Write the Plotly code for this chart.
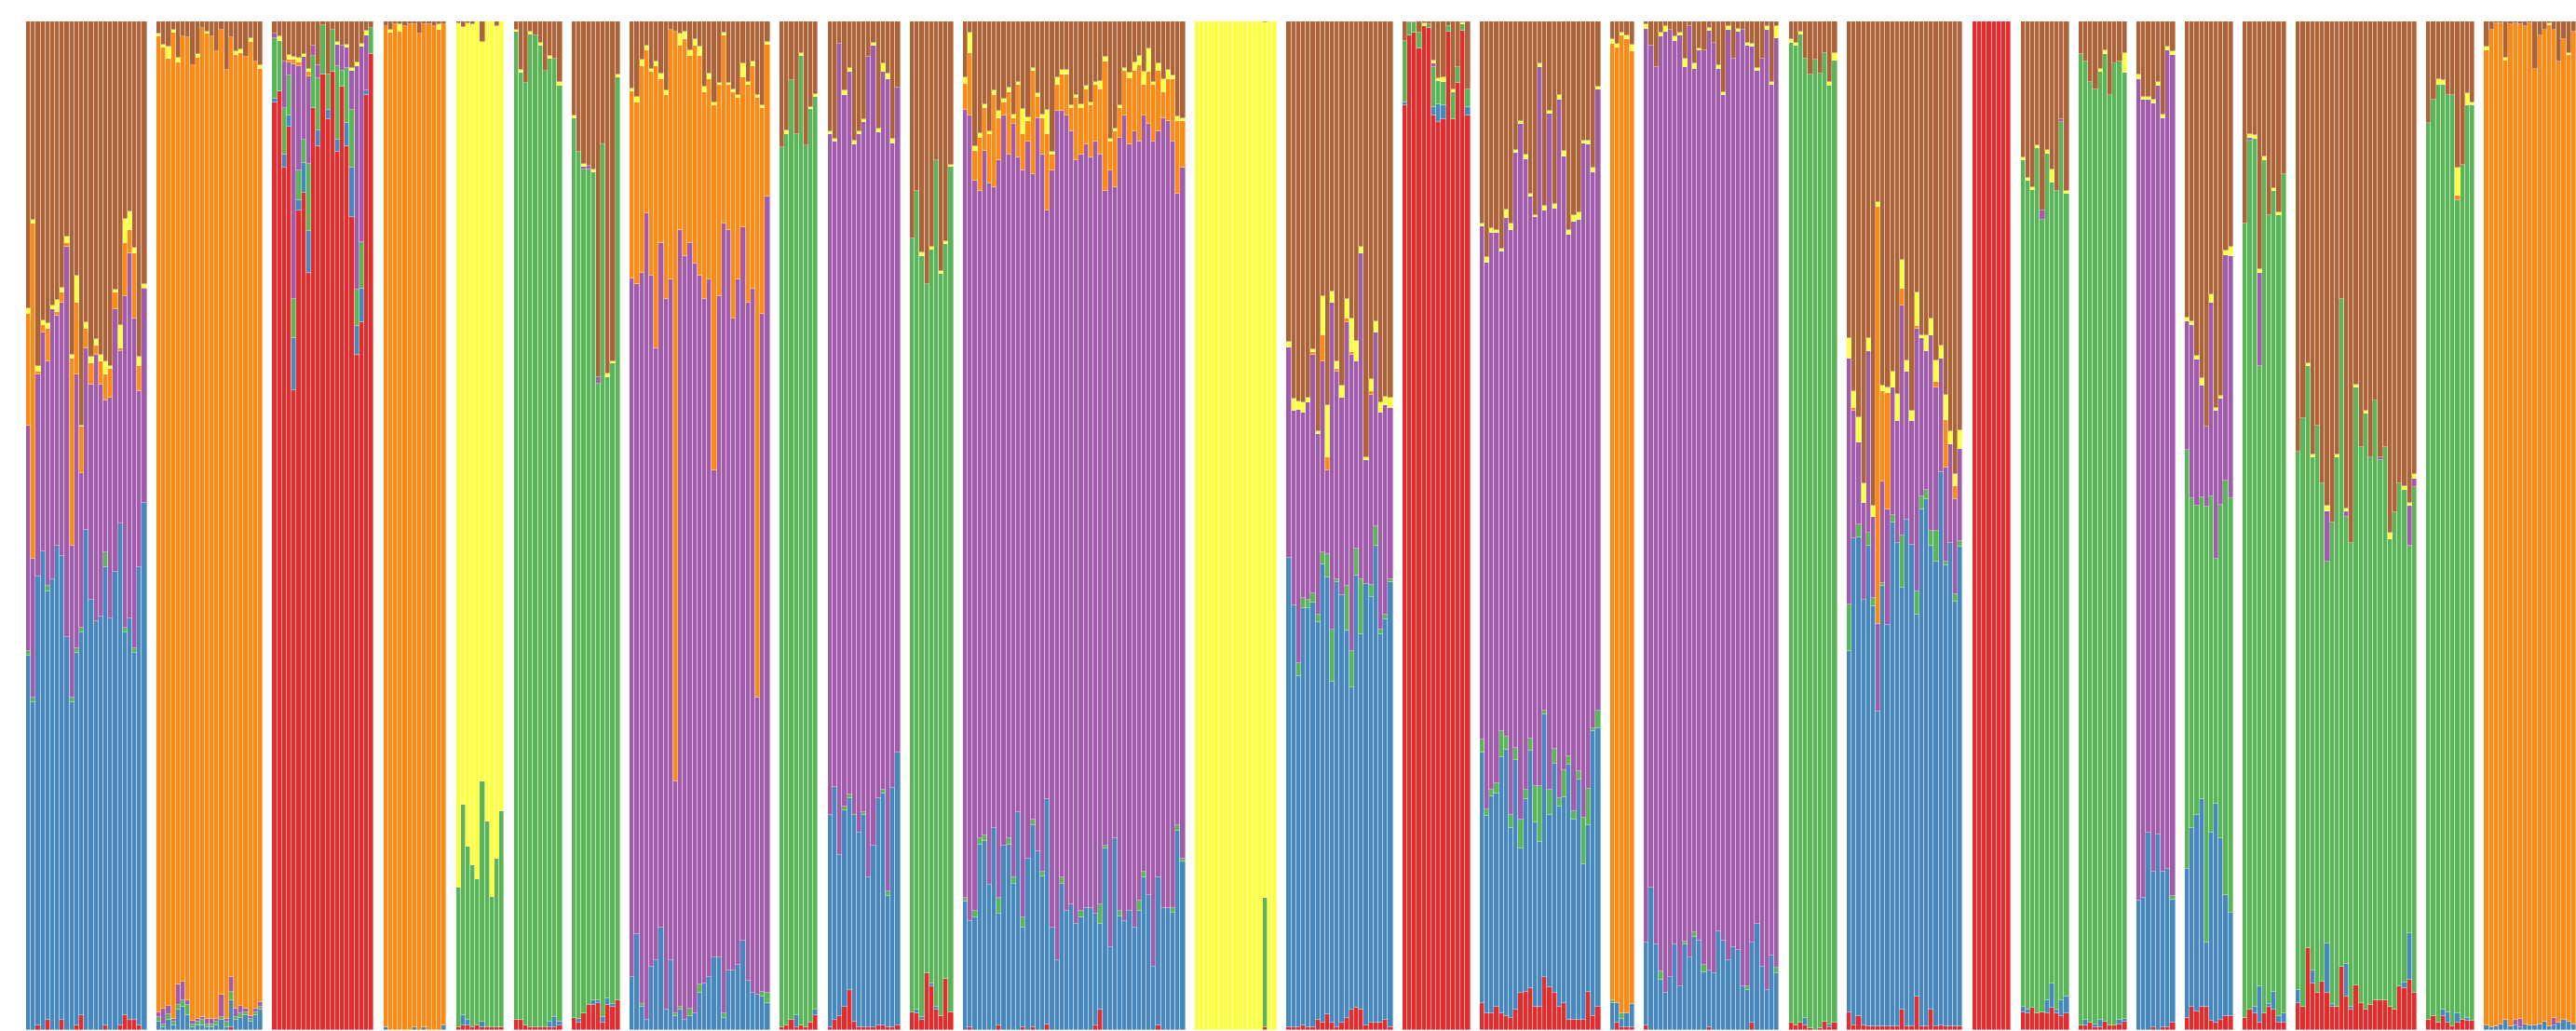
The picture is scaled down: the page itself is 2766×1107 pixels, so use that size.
import plotly.graph_objects as go

# Ancestry components (stacking order bottom -> top)
COMPONENTS = ["R", "B", "G", "P", "O", "Y", "N"]
COMPONENT_NAMES = {"R": "K1", "B": "K2", "G": "K3", "P": "K4", "O": "K5", "Y": "K6", "N": "K7"}
COLORS = {"R": "#e41a1c", "B": "#377eb8", "G": "#4daf4a", "P": "#984ea3",
          "O": "#ff7f00", "Y": "#ffff33", "N": "#a65628"}

# ---------------- population 1 ----------------
P01_R = [0,0,0.5,0,1,0,0,1,0,0,0.5,1.5,0,0,0,0,0.5,0,0,0.5,1.5,1,1,0.5,0]
P01_B = [37.1,32.5,44.5,47.5,42.5,44.7,48,46,39,32.5,36.9,37.9,49.6,42.7,40.5,41,45.4,40.8,45.4,49.7,37.9,39.8,36.4,45.4,52.3]
P01_G = [0.5,0.5,0,0,0.5,0,0,0,0,0.5,0.5,0.5,0,0,0,0,1.5,0,0,0,0.5,0,0.5,0,0]
P01_P = [22.3,13.7,20,21.7,22.3,26.8,22.8,25.1,38.7,15,27.1,15.3,18,21.3,26.4,23,15,21.9,26.1,17.1,32.9,36.2,32.6,17.4,21.2]
P01_O = [11.1,33.3,0.3,0.7,3.2,0,0.4,1,0.3,18.6,7.1,4.6,1.9,2.1,1,2.3,2.6,2.9,1.6,0.3,5.2,2.3,6.5,2.5,0.1]
P01_Y = [0.6,0.3,0.5,0.5,0.6,0.3,1.2,0.5,0.7,0.3,2.7,0.1,0.7,0.7,0.6,0.6,1.3,0.2,0.3,2.3,2.4,1.9,0.6,1,0.4]
P01_N = [28.4,19.7,34.2,29.6,29.9,28.2,27.6,26.4,21.3,33.1,25.2,40.1,29.8,33.2,31.5,33.1,33.7,34.2,26.6,30.1,19.6,18.8,22.4,33.2,26]

# ---------------- population 2 ----------------
P02_R = [0,0,0,0,0,0,0,0,0,0,0,0,0,0,0,0.3,0,0,0,0,0,0]
P02_B = [0.8,0.3,1,0.5,2,2.3,1.5,0.3,0.5,0.5,0.3,0.3,0.5,1,0.3,2.7,1,1.2,1.5,0.8,1.5,2]
P02_G = [0.5,0.3,0.6,0.3,0.5,0.7,1,0.3,0.3,0.5,0.3,0.3,0.3,0.3,0.5,0.8,0.3,0.5,0.3,0.3,0.3,0.3]
P02_P = [0.5,1.5,0.8,0.3,2,1.8,0.5,0.3,0.3,0.3,0.5,0.5,0.3,2.2,0.3,1.5,0.8,0.7,0.3,0.3,0.3,0.5]
P02_O = [96.7,95.3,93.9,97.8,91.4,93.7,95.4,94.8,95.3,98.1,97.7,97.4,95.9,95.7,94.1,93.1,94.6,94.5,94.4,96.6,93.9,92.5]
P02_Y = [0.3,0.3,1.2,0.3,0.5,0,0,0,0.4,0,0.2,0,0,0,0,0,0.3,0.3,0,0.3,0,0.4]
P02_N = [1.2,2.3,2.5,0.8,3.6,1.5,1.6,4.3,3.2,0.6,1,1.5,3,0.8,4.8,1.6,3,2.8,3.5,1.7,4,4.3]

# ---------------- population 3 ----------------
P03_R = [92,93,85.5,89.6,63.7,81.3,83,75.4,91.4,87.5,94.7,90.3,95,87.2,93.5,87.8,80.6,66.9,70.2,92.7,96.8]
P03_B = [0.3,0,1.3,1.1,5.2,1,3,4.2,0,1.6,0,0.9,0,1.2,0,2.3,4.9,2.9,3.3,0.5,0]
P03_G = [6,5,4.6,3.9,3.9,2.9,2.3,6.7,5.2,5.2,4.9,3.5,4.2,7.3,1.6,5.5,5.7,3.6,4.6,0,2.6]
P03_P = [0.5,0,4.6,1.3,23.3,10.4,8.2,8.7,1,1.3,0,0,0,2.1,2.5,2,3.9,22.2,19.4,5.4,0]
P03_O = [0,0,0,0.3,0.5,0.3,0,0.5,0,0,0,0,0,0,0,0,0,0,0,0,0]
P03_Y = [0,0.4,0,0.5,0.3,0.5,0.3,0.3,0,0,0,0,0,0.3,0,0.3,0.3,0.3,0.3,0.5,0]
P03_N = [1.2,1.5,4,3.3,3.5,3.6,3.2,4.7,2.4,4.3,0.4,5.3,0.8,2,2.4,2.3,4.6,4.1,2.2,0.9,0.6]

# ---------------- population 4 ----------------
P04_B = [0.3,0,0,0,0,0,0.3,0,0.3,0,0,0,0.5]
P04_O = [99.2,98.9,99.7,99,99.5,99.7,99.4,98.8,99.4,99.7,99.5,99.2,99.2]
P04_Y = [0,0.3,0,0.7,0,0,0,0,0,0,0,0.5,0]
P04_N = [0.5,0.8,0.3,0.3,0.5,0.3,0.3,1.2,0.3,0.3,0.5,0.3,0.3]

# ---------------- population 5 ----------------
P05_R = [0.3,0.5,0.5,0.3,0.5,0.3,0.3,0.3,0.3,0.3]
P05_B = [0,1,0.5,0,0,0.5,0,0,0,0]
P05_G = [13.8,20.5,17,16,14.4,23.7,20.4,12.9,16.7,21.4]
P05_Y = [85.7,76,80.8,83.4,84.6,72.7,79.3,86.8,82.5,78.3]
P05_N = [0.2,0.5,0.2,0.3,0,2,0,0,0.5,0]

# ---------------- population 6 ----------------
P06_R = [1,1,0.5,0.3,0.3,0.3,0.3,0.3,0.3,0.5]
P06_B = [0,0,0,0,0,0,0,0.5,1,0.3]
P06_G = [98,93.9,93.4,98.4,98.3,97.3,94.8,95.5,95,92.8]
P06_Y = [0.2,0.3,0,0.3,0,0.3,0,0.3,0,0.4]
P06_N = [0.8,4.8,6.1,1,1.4,2.1,4.9,3.4,3.7,6]

# ---------------- population 7 ----------------
P07_R = [1.2,0.7,1.7,2.5,2.5,2.7,0.7,2.5,2.3,3]
P07_B = [0,0.4,0,0,0.5,0.3,0.6,0.6,0.3,0]
P07_G = [89.2,86,83.6,82.8,82,61.1,86.5,61.6,63.5,91.5]
P07_P = [0,0,0.3,0.4,0,0.6,0,0,0,0]
P07_Y = [0.3,0,0.3,0,0.3,0,0,0.4,0.2,0.2]
P07_N = [9.3,12.9,14.1,14.3,14.7,35.3,12.2,34.9,33.7,5.3]

# ---------------- population 8 ----------------
P08_B = [5.3,9.5,2.3,1,6.3,6.9,10.2,2,6.9,1.4,2,1,1.4,1.7,3.7,4.6,5.3,7.2,7.2,1.2,5.9,5.9,6.5,8.9,4.9,3.7,3.5,3.3,2.7]
P08_G = [0,0,0.3,0,0,0,0,0,0,0.3,0.3,0,0.7,0,0.8,0,0,0,0,0.5,0,0,0,0,0,0,0,0.5,1]
P08_P = [69.1,64.5,72.5,80,68.5,60.7,67.8,70.5,67.5,23,77,75.7,75.9,74.3,70.3,67.9,69.1,48.3,65.6,78.3,73.4,64.6,67.9,70.7,67.2,69.8,29.5,67.2,78.9]
P08_O = [18.6,18,20.5,16.1,20.2,28,16.3,20.2,24.8,74.3,18.3,21.5,18.6,21.6,21.8,20.5,19.9,36.2,20.9,18.6,14.4,22.5,18,14.9,21.6,22.1,59.4,20.4,15.1]
P08_Y = [0.3,0.5,0.6,0.5,0.3,0.4,0.5,0.5,0,0,1.2,0.8,0.5,0.6,0.9,0.5,0.5,0.3,0.2,0.3,0.2,0.3,0.3,1.3,0.3,0.4,0.3,0.3,0.3]
P08_N = [6.6,7.5,3.8,2.4,4.7,4,5.2,6.8,0.8,1,1.2,1,2.9,1.8,2.5,6.5,5.2,8,6.1,1.1,6.1,6.7,7.3,4.2,6,4,7.3,8.3,2]

# ---------------- population 9 ----------------
P09_R = [0.3,0.5,1,0.3,0.5,0.3,0.7,1.5]
P09_B = [0,0,0,1.2,0,0,0,0.5]
P09_G = [87.2,88.3,93.2,87.3,96.1,87.4,90.6,90.5]
P09_Y = [0,0.4,0,0,0.3,0,0.2,0.3]
P09_N = [12.5,10.8,5.8,11.2,3.1,12.3,8.5,7.2]

# ---------------- population 10 ----------------
P10_R = [0.3,1,1.4,2.3,4,0.8,0.3,0.3,0.3,0.3,0.5,0.5,0.3,0.3,0.5]
P10_B = [21,23,16,19.5,19,20.5,19.3,21,14.8,18,22.5,23,13,23,27]
P10_G = [0,0,0,0.4,0.4,0,0,0.3,0,0,0,0.3,0.5,0,0]
P10_P = [67.5,63.8,80.4,70.5,71.6,66.5,69.2,68.4,81.4,79.3,66,71.2,80.5,62,65.9]
P10_Y = [0.3,0.3,0,0.5,0.4,0.4,0.3,0.3,0,0.3,0.4,0.8,0.5,0.4,0]
P10_N = [10.9,11.6,2.2,6.8,4.6,11.8,10.9,9.7,3.5,2.1,10.6,4.2,5.2,11.3,6.6]

# ---------------- population 11 ----------------
P11_R = [1.8,1.7,1,5.6,4.3,2,1.4,5.1,1.8]
P11_B = [0,0.3,0.3,0,0.3,0.3,0,0,0]
P11_G = [76.7,81.2,75.4,68.4,72.8,83.9,73.6,72.8,83.8]
P11_Y = [0,0,0.4,0,0.3,0,0.3,0.3,0.2]
P11_N = [21.5,16.8,22.9,26,22.3,13.8,24.7,21.8,14.2]

# ---------------- population 12 ----------------
P12_R = [0,0.3,0,0,0,0,0,0.5,0,0,0,0,0.3,0,0.3,0,0,0.6,0,0,0,0,0,0,0,0,0,0.5,2.0,0,0,0,0,0,0,0,0,0,0,0,0.5,0,0,0,0,0]
P12_B = [12.7,10.5,11.2,18.4,18.7,14.4,20,11,18.3,18.4,14.5,21.6,9.9,17,20,17.7,15.2,22.3,10.2,6.9,14.5,11.8,12.5,10.5,11.2,12.1,12.1,11,8.5,18,8.2,19,11.3,10.8,11.8,10.2,11.8,15.1,13.4,6.3,14.6,12.1,12.1,11.6,19.8,16.7]
P12_G = [0.4,0,0.6,0.6,0.6,0,0,1.6,0,0.6,0.6,0,1,0,0.6,0,0.5,0,0,0,0.6,0,0,0,0.6,0,0,0,2,0.3,0,0,0.5,0,0,0,1,0.6,0,0,0,0,0,0.5,0.5,0.3]
P12_P = [78.1,79.9,72.4,64.2,67.9,69.5,63.6,73.1,72.4,67.8,74.7,64.9,74,71.1,64,72.7,71.1,58.4,75,84.2,76,78.9,76.6,75.7,75,75.7,74.4,76.6,74.3,64.9,77,64.6,76.7,79.9,76,78.9,75.3,75,76.4,81.8,74,78.3,78,76,62.6,68.5]
P12_O = [2.6,6.2,3,5.3,4.2,4.9,9.1,4.2,1.3,6.2,0.6,7.2,3.6,2,10.2,2.1,3.6,7.5,1.6,2.6,3.6,4,2.3,6.2,4.6,5.5,5.2,5.6,6.5,12.8,2.9,5.5,2.9,4.4,6.6,6,7.6,3,5.2,5.6,6,2.6,4.2,6.2,7.2,4.6]
P12_Y = [0.7,2,0.4,0.4,0.4,0.3,0.5,0.7,0.3,0.4,0.4,0.3,2.5,0.4,0.3,0.4,0.4,2.4,0.3,0.8,0.5,0.5,0.3,0.3,0.4,0.3,0.3,0.3,0.8,0.5,0.3,0.3,0.3,0.3,0.5,0.8,0.9,1.3,2.3,0.3,0.7,1.3,0.9,0.3,0.5,0.3]
P12_N = [5.5,1.1,12.4,11.1,8.2,10.9,6.8,8.9,7.7,6.6,9.2,6,8.7,9.5,4.6,7.1,9.2,8.8,12.9,5.5,4.8,4.8,8.3,7.3,8.2,6.4,8,6,5.9,3.5,11.6,10.6,8.3,4.6,5.1,4.1,3.4,5,2.7,6,4.2,5.7,4.8,5.4,9.4,9.6]

# ---------------- population 13 ----------------
P13_R = [0,0,0,0,0,0,0,0,0,0,0,0,0,0,0.3,0,0]
P13_G = [0,0,0,0,0,0,0,0,0,0,0,0,0,0,12.8,0,0]
P13_Y = [100,100,100,100,100,100,100,100,100,100,100,100,100,100,86.8,100,100]
P13_N = [0,0,0,0,0,0,0,0,0,0,0,0,0,0,0.1,0,0]

# ---------------- population 14 ----------------
P14_R = [0.3,0.3,0.3,0.5,0.3,0.3,1.0,0.7,1.5,0.7,0.3,0.7,1.2,2.0,2.2,2.0,0.5,0.7,0.7,0.7,1.0,0.3]
P14_B = [46.5,41.8,34.3,41.3,41.5,42.1,39.4,45.5,42.3,33.8,44.1,42.4,38.4,32.0,42.9,37.2,43.7,42.2,47.3,38.5,39.7,44.1]
P14_G = [0,0,1.3,1.0,0.9,0.9,0.8,1.2,2.3,5.2,0.3,0,4.4,3.6,2.6,5.5,0,1.2,2.0,0.5,0.5,0.3]
P14_P = [20.9,19.3,24.8,18.4,19.5,23.6,17.9,18.9,8.1,32.4,20.6,19.6,26.2,29.3,18.6,32.3,12.3,18.9,19.2,21.5,20.8,17.0]
P14_O = [0,0,0,0,0,0.3,0,2.6,1.3,0,0.3,0,0.3,0.3,0,0,0,0.3,0,0,0,0]
P14_Y = [0.5,1.2,0.8,1.0,0.5,0.3,0.3,3.9,5.0,1.1,0.7,1.2,2.0,3.3,2.0,0.7,0.3,1.2,1.1,1.0,0.8,1.0]
P14_N = [31.8,37.4,37.2,37.8,37.3,32.5,40.6,27.2,37.2,26.8,33.7,36.1,27.5,29.5,31.7,22.3,43.2,35.5,29.7,37.8,37.2,37.3]

# ---------------- population 15 ----------------
P15_R = [91.7,98.6,98.9,97.3,99.5,99.4,90.7,90.0,90.3,99.0,90.3,93.9,99.2,90.7]
P15_B = [0.3,0,0,0,0,0,0.8,1.8,1.4,0,0,0,0,0.8]
P15_G = [6.1,1.3,1.0,1.6,0,0.3,4.0,2.3,2.3,0.5,2.7,1.6,0.6,1.8]
P15_P = [0,0,0,0,0,0,0.3,0,0,0,0,0,0,0]
P15_Y = [0,0,0,0,0.3,0,0.3,0.3,0.5,0,0.3,0,0.2,0]
P15_N = [1.9,0.1,0.1,1.1,0.2,0.3,3.9,5.6,5.5,0.5,6.7,4.5,0.1,6.7]

# ---------------- population 16 ----------------
P16_R = [2.7,1.7,1.7,2.3,1.7,1.4,1.2,2.0,3.7,3.8,4.2,2.3,2.3,5.3,4.3,3.7,2.3,2.7,1.0,1.0,1.0,1.0,3.8,1.4,2.3]
P16_B = [24.8,19.6,21.5,21.2,25.4,26.4,18.8,24.8,14.3,19.1,23.6,18.3,16.4,26.1,17.1,22.8,19.9,20.4,25.4,19.9,23.9,15.4,16.5,28.3,27.6]
P16_G = [1.3,0.7,0.7,1.0,2.5,1.3,1.3,1.2,2.9,1.0,1.2,3.6,5.5,0.3,2.5,1.4,0.8,2.7,0.8,0.8,0.8,4.6,3.6,0.3,1.8]
P16_P = [50.8,54.4,55.3,54.8,47.6,51.5,58.0,59.0,68.9,62.6,53.9,56.6,71.4,49.7,67.3,53.7,69.4,61.0,51.8,58.6,54.8,66.8,64.0,55.2,61.6]
P16_Y = [0.3,0.5,0.5,0.3,0.3,0.8,0.7,0.3,0.3,0.5,0.3,0.2,0.3,0.5,0.3,0.5,0.5,0.5,0.5,0.7,0.7,0.3,0.4,0.5,0.2]
P16_N = [20,23.5,20.5,20.7,22.5,18.7,20,12.7,9.9,13.2,17.1,19.2,4.2,18.3,8.9,18.1,7.3,12.9,20.7,19.2,19,11.8,11.8,14.5,6.5]

# ---------------- population 17 ----------------
P17_R = [0,0.7,0.3,0.3,0.3]
P17_B = [2.7,2.0,0.8,1.4,2.3]
P17_G = [0.3,0,0.6,0,0]
P17_O = [94.8,94.7,97.2,96.5,94.4]
P17_Y = [0.4,0.4,0.3,0.4,0.7]
P17_N = [1.8,2.2,1.1,1.4,2.3]

# ---------------- population 18 ----------------
P18_R = [0.5,0,0,0,0,0,0,0,0,0,0,0,0,0.3,0,0,0,0,0,0,0,0,0.7,0,0,0,0,0]
P18_B = [8.2,14.1,8.5,5.0,3.7,5.3,8.5,4.3,8.5,7.2,9.2,8.9,5.7,5.6,5.6,9.8,8.9,6.9,8.2,7.9,4.3,4.0,8.0,10.5,6.3,4.0,7.4,5.6]
P18_G = [0,0,0,0.8,0,0,0,0,0.3,0,0.5,0,0.8,0,0,0,0,0,0,0,0,0.3,0,0,0,0,0,0.6]
P18_P = [90.6,83.5,87,92.7,95.3,93.9,89.6,94.3,86.7,92.3,85.6,88.2,90.6,93.2,92.3,85.5,83.8,92.3,88.1,91.1,94.9,93.3,88.8,84.6,90,95.2,86.3,92.1]
P18_Y = [0.4,0,0,0.4,0.5,0,0.4,0.3,0.8,0,0.5,0.2,0,0.3,0,0.4,0.3,0.3,0,0.3,0,0.3,0.3,0.3,0,0.3,0.3,1.2]
P18_N = [0.3,2.4,4.5,1.1,0.5,0.8,1.5,1.1,3.7,0.5,4.2,2.7,2.9,0.6,2.1,4.3,7.0,0.5,3.7,0.7,0.8,2.1,2.2,4.6,3.7,0.5,6.0,0.5]

# ---------------- population 19 ----------------
P19_R = [0.7,0.5,0.7,0.5,0.2,0,0.2,0.8,0.3,0.7]
P19_B = [0,0,0,0.7,0,0,0,0,0.3,0]
P19_G = [97.2,97.1,98,95.1,94.5,96.2,94.6,96.1,93,95.4]
P19_Y = [0.3,0.3,0.3,0,0,0,0,0,0.4,0.8]
P19_N = [1.8,2.1,1,3.7,5.3,3.8,5.2,3.1,6,3.1]

# ---------------- population 20 ----------------
P20_R = [1.8,0.5,1.4,0.5,0.4,0.4,0.4,0.4,0.4,0.4,0.4,2.0,0.4,0.4,3.3,0.4,0.4,2.0,0.4,0.5,0.4,0.4,0.4,0.4]
P20_B = [35.8,48.3,47.3,42.2,47.6,41.6,31.2,43.7,39.8,49.9,47.9,41.8,50.2,47.7,37.9,51.2,52.2,46.0,46.0,54.8,45.7,47.9,42.1,47.6]
P20_G = [4.6,0,1.3,0,1.3,0.8,0,0.3,0,0.8,0,5.2,0,0,2.3,1.3,1.0,1.5,3.1,0,0.3,0,0.7,0.5]
P20_P = [24.4,12.6,8.1,9.6,18.0,8.1,8.7,10.1,11.4,12.6,12.1,22.8,14.7,12.3,26.0,15.7,13.7,19.4,14.2,11.3,9.4,9.8,9.4,9.2]
P20_O = [0,0.3,0,0,0,0,41.3,9.0,11.6,0,0,1.6,0,0,0.3,0,0,0,0.6,0,4.7,0,1.3,0]
P20_Y = [2.0,1.6,2.5,2.0,1.3,1.1,0.5,0.5,0.5,1.6,2.7,2.9,1.1,1.0,3.3,0.3,1.6,1.6,2.1,1.3,2.5,1.3,1.2,1.8]
P20_N = [31.4,36.7,39.1,45.8,31.4,48,17.9,36.2,36.3,34.7,36.9,23.6,33.6,38.6,26.9,31.1,31.1,29.5,33.6,32.1,37,40.6,44.9,40.6]

# ---------------- population 21 ----------------
P21_R = [100,100,100,100,100,100,100,100]

# ---------------- population 22 ----------------
P22_R = [1.8,1.7,2.2,1.7,1.8,1.7,2.2,1.7,1.4,1.7]
P22_B = [0.5,0.3,0,0,0,1.3,2.4,0.3,1.6,1.6]
P22_G = [83.9,82.2,81.1,85.7,78.5,83.9,79.4,81.2,87.0,79.6]
P22_P = [0,0,0,0,1.0,0,0,0,0.3,0]
P22_Y = [0.3,0.3,0.3,0.3,0,0.4,1.3,0,0,0.3]
P22_N = [13.5,15.5,16.4,12.3,18.7,12.7,14.7,16.8,9.7,16.8]

# ---------------- population 23 ----------------
P23_R = [0.5,0.5,0.7,0.3,0.3,0.8,0.5,0.5,0.6,0.8]
P23_B = [0,0.5,0,0.3,0.7,0,0,0,0.4,0.3]
P23_G = [96.3,95,93.3,92.7,94,96,92.2,95.3,95,93.8]
P23_Y = [0,0,0,0,0.3,0.3,0,0,0,2.0]
P23_N = [3.2,4.0,6.0,6.7,4.7,2.9,7.3,4.2,4.0,3.1]

# ---------------- population 24 ----------------
P24_R = [0,0,0,0.3,0,0.3,0.3,0.7]
P24_B = [12.8,13.1,19.6,15.4,19.4,15.4,15.7,12.2]
P24_G = [0,0,0,0,0,0,0,0.4]
P24_P = [81.5,79.1,72.6,76.2,74.2,74.7,81.1,83.4]
P24_Y = [0.4,0.3,0.3,0.3,0.4,0.4,0.4,0.3]
P24_N = [5.3,7.5,7.5,7.8,6.0,9.2,2.5,3.0]

# ---------------- population 25 ----------------
P25_R = [1.2,2.3,1.8,2.3,2.3,0.9,0.7,1.0,1.4,1.4]
P25_B = [14.8,17.7,19.5,20.6,6.4,18.7,21.7,18.0,12.0,10.2]
P25_G = [41.5,32.7,30.6,30.0,43.2,33.3,24.3,32.9,41.1,41.1]
P25_P = [12.8,17.2,14.5,11.1,7.9,19.2,14.7,10.5,22.3,24.0]
P25_Y = [0.3,0.4,0.4,0.7,0,0.8,0.3,0.3,0.5,1.0]
P25_N = [29.4,29.7,33.1,35.4,40.2,27.1,38.3,37,22.7,22.3]

# ---------------- population 26 ----------------
P26_R = [1.2,2.0,1.7,0.7,1.7,2.3,2.0,0.7,0.7]
P26_B = [0,0,0.6,3.6,0,0.3,1.8,0.7,1.0]
P26_G = [78.8,86.2,86.1,61.5,84.5,78.2,79.4,79.4,83.2]
P26_P = [0,0.3,0,9.3,0,0,0,0,0]
P26_Y = [0,0.3,0.3,0.3,0.4,0,0.3,0.3,0]
P26_N = [20,11.2,11.3,24.6,13.4,19.2,16.5,18.9,15.1]

# ---------------- population 27 ----------------
P27_R = [2.7,2.3,8.1,4.6,3.7,4.8,3.7,2.3,2.3,6.3,3.3,2.0,4.4,2.7,2.0,2.5,3.0,3.0,3.0,2.3,2.0,4.3,4.2,5.0,3.7]
P27_B = [1.3,0,0,1.3,0,0,4.9,0.3,0,0,3.3,0.3,0,0,0,0,0,0,0,0,0,0,0.5,4.6,0]
P27_G = [53.3,58.4,57.7,50.9,56.2,49.4,37.8,47.7,54.5,66.2,44.3,46.0,59.3,55.1,59.1,54.3,59.4,53.5,54.8,46.4,49.3,49.9,48.9,38.4,50.1]
P27_P = [0,0,0,0,0,0,5.0,0,0,0,0.5,0,0,0,0,0,0,0.3,0,0,0,0,0,4.0,0.9]
P27_Y = [0,0,0.3,0.3,0,0,0.6,0,0.3,0,0.3,0,0.3,0,0.3,0,0,0,0,0.6,0,0,0.3,0.3,0.4]
P27_N = [42.7,39.3,33.9,42.9,40.1,45.8,48.0,49.7,42.9,27.5,48.3,51.7,36,42.2,38.6,43.2,37.6,43.2,42.2,50.7,48.7,45.8,46.1,47.7,44.9]

# ---------------- population 28 ----------------
P28_R = [1.0,1.4,0.7,1.4,0.7,0.4,0.7,1.0,0.9,0.9]
P28_B = [0,0,0,0.6,1.1,0,1.0,0,0.3,0]
P28_G = [88.9,90.8,93,91.7,90.9,92.3,80.6,84.8,90.5,90.8]
P28_O = [0,0,0,0,0,0,0.4,0,0,0]
P28_Y = [0,0,0.6,0.5,0,0,2.8,0,1.2,0.3]
P28_N = [10.1,7.8,5.7,5.8,7.3,7.3,14.5,14.2,7.1,8.0]

# ---------------- population 29 ----------------
P29_B = [0.5,0.3,0.4,0.6,1.0,0.4,0.5,0.3,0.6,0.5,0.5,0.6,0.8,0.4,0.5,0.7,1.0,0.8,0.6]
P29_P = [0,0,0,0,0,0,0.5,0.8,0,0,0,0,0,0,0.7,0,0,0,0]
P29_O = [96.6,98.9,99.4,99.2,95.1,99.3,98.8,98.6,98.9,99.3,94.8,98,98.4,99.2,98,95.3,97.2,95.9,98.4]
P29_Y = [0.4,0,0,0,0.3,0,0,0,0,0,0,0,0,0.2,0,0,0,0.2,0]
P29_N = [2.5,0.8,0.2,0.2,3.6,0.3,0.2,0.3,0.5,0.2,4.7,1.4,0.8,0.2,0.8,4.0,1.8,3.1,1.0]

POPULATIONS = ["P%02d" % i for i in range(1, 30)]
GAP = 2  # empty slots between populations

xs = []
ys = {c: [] for c in COMPONENTS}
cursor = 0
for pop in POPULATIONS:
    lists = {c: globals().get(f"{pop}_{c}") for c in COMPONENTS}
    n = max(len(v) for v in lists.values() if v is not None)
    for c in COMPONENTS:
        v = list(lists[c]) if lists[c] is not None else []
        v = v + [0] * (n - len(v))
        ys[c].extend(v)
    xs.extend(range(cursor, cursor + n))
    cursor += n + GAP
total = cursor - GAP

fig = go.Figure()
for c in COMPONENTS:
    fig.add_trace(go.Bar(
        x=xs, y=ys[c], name=COMPONENT_NAMES[c],
        marker=dict(color=COLORS[c], opacity=0.92,
                    line=dict(color="rgba(255,255,255,0.55)", width=0.7)),
        hoverinfo="x+y+name",
    ))

fig.update_layout(
    barmode="stack", barnorm="percent", bargap=0,
    width=2766, height=1107,
    margin=dict(l=28, r=0, t=23, b=1, pad=0),
    xaxis=dict(visible=False, range=[-0.5, total - 0.5]),
    yaxis=dict(visible=False, range=[0, 100]),
    showlegend=False,
    plot_bgcolor="white", paper_bgcolor="white",
)

fig.write_html("out.html",
               config={"displayModeBar": False},
               post_script="document.body.style.margin='0';document.body.style.overflow='hidden';")
